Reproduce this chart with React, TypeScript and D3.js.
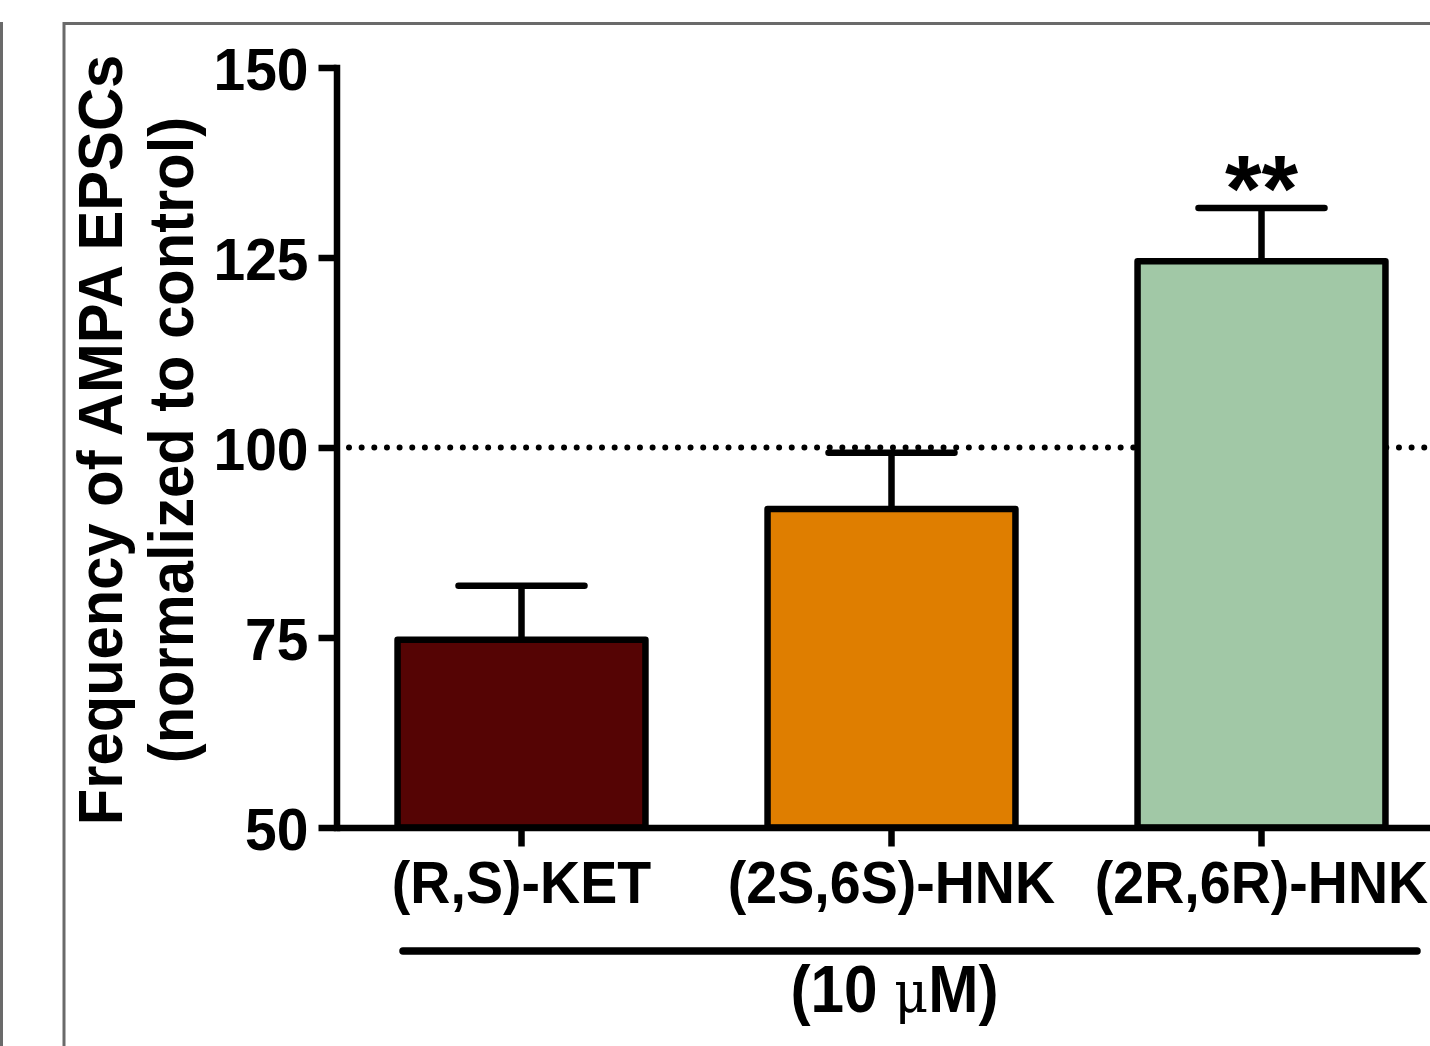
import React, { useRef, useEffect } from "react";
import * as d3 from "d3";

const categories = ["(R,S)-KET", "(2S,6S)-HNK", "(2R,6R)-HNK"];
const means = [74.7, 91.9, 124.5];
const sems = [7.1, 7.4, 7.0];
const barColors = ["#550404", "#df7e00", "#a1c8a6"];
const significance = ["", "", "**"];
const yTicks = [50, 75, 100, 125, 150];
const titleLines = ["Frequency of AMPA EPSCs", "(normalized to control)"];

const FONT = '"Liberation Sans", Arial, Helvetica, sans-serif';
const SX = 0.95; // glyphs in the figure are slightly condensed

const App = () => {
  const chartRef = useRef<SVGSVGElement>(null);

  useEffect(() => {
    drawChart();
  }, []);

  const drawChart = () => {
    if (!chartRef.current) return;
    const svg = d3.select(chartRef.current);
    svg.selectAll("*").remove();

    const W = 1430;
    const H = 1046;

    const y = d3.scaleLinear().domain([50, 150]).range([827.5, 67.5]);
    const x = d3
      .scaleBand()
      .domain(categories)
      .range([336.5, 1446.5])
      .paddingInner(0.33)
      .paddingOuter(0.165);
    const cx = (name: string) => x(name)! + x.bandwidth() / 2;

    // panel frame
    svg
      .append("rect")
      .attr("x", 64)
      .attr("y", 23.5)
      .attr("width", W)
      .attr("height", H)
      .attr("fill", "none")
      .attr("stroke", "#6a6a6a")
      .attr("stroke-width", 3);
    svg
      .append("line")
      .attr("x1", 1.5)
      .attr("x2", 1.5)
      .attr("y1", 22)
      .attr("y2", H)
      .attr("stroke", "#6a6a6a")
      .attr("stroke-width", 3);

    const data = categories.map((c, i) => ({
      name: c,
      mean: means[i],
      sem: sems[i],
      color: barColors[i],
      sig: significance[i],
    }));

    // reference line at 100
    svg
      .append("line")
      .attr("x1", 349)
      .attr("x2", W + 10)
      .attr("y1", y(100))
      .attr("y2", y(100))
      .attr("stroke", "#000")
      .attr("stroke-width", 6)
      .attr("stroke-linecap", "round")
      .attr("stroke-dasharray", "0 12.65");

    // error bars
    const eb = svg.selectAll(".eb").data(data).enter().append("g").attr("class", "eb");
    eb.append("line")
      .attr("x1", (d) => cx(d.name))
      .attr("x2", (d) => cx(d.name))
      .attr("y1", (d) => y(d.mean))
      .attr("y2", (d) => y(d.mean + d.sem))
      .attr("stroke", "#000")
      .attr("stroke-width", 6.5);
    eb.append("line")
      .attr("x1", (d) => cx(d.name) - 63)
      .attr("x2", (d) => cx(d.name) + 63)
      .attr("y1", (d) => y(d.mean + d.sem))
      .attr("y2", (d) => y(d.mean + d.sem))
      .attr("stroke", "#000")
      .attr("stroke-width", 6.5)
      .attr("stroke-linecap", "round");

    // bars
    svg
      .selectAll(".bar")
      .data(data)
      .enter()
      .append("rect")
      .attr("class", "bar")
      .attr("x", (d) => x(d.name)!)
      .attr("y", (d) => y(d.mean))
      .attr("width", x.bandwidth())
      .attr("height", (d) => y(50) - y(d.mean))
      .attr("fill", (d) => d.color)
      .attr("stroke", "#000")
      .attr("stroke-width", 6.5)
      .attr("stroke-linejoin", "round");

    // significance
    svg
      .selectAll(".sig")
      .data(data)
      .enter()
      .append("text")
      .attr("class", "sig")
      .attr("x", (d) => cx(d.name))
      .attr("y", (d) => y(d.mean + d.sem) + 13)
      .attr("text-anchor", "middle")
      .style("font-family", FONT)
      .style("font-weight", "bold")
      .style("font-size", "94px")
      .text((d) => d.sig);

    // y axis
    const yAxis = svg
      .append("g")
      .attr("transform", "translate(336.5,0)")
      .call(d3.axisLeft(y).tickValues(yTicks).tickSize(18).tickSizeOuter(0));
    yAxis.select(".domain").attr("stroke-width", 6.5).attr("stroke-linecap", "square");
    yAxis.selectAll(".tick line").attr("stroke-width", 6.5);
    yAxis
      .selectAll(".tick text")
      .attr("x", -28 / SX)
      .attr("dy", "0.36em")
      .attr("transform", `scale(${SX},1)`)
      .attr("fill", "#000")
      .style("font-family", FONT)
      .style("font-weight", "bold")
      .style("font-size", "60px");

    // x axis
    const xAxis = svg
      .append("g")
      .attr("transform", `translate(0,${y(50)})`)
      .call(d3.axisBottom(x).tickSize(19).tickSizeOuter(0).tickPadding(15));
    xAxis.select(".domain").attr("stroke-width", 6.5);
    xAxis.selectAll(".tick line").attr("stroke-width", 6.5);
    xAxis
      .selectAll(".tick text")
      .attr("transform", `scale(${SX},1)`)
      .attr("fill", "#000")
      .style("font-family", FONT)
      .style("font-weight", "bold")
      .style("font-size", "58.5px");

    // y title
    titleLines.forEach((t, i) => {
      svg
        .append("text")
        .attr("transform", `translate(${122 + i * 71},440) rotate(-90) scale(0.955,1)`)
        .attr("text-anchor", "middle")
        .style("font-family", FONT)
        .style("font-weight", "bold")
        .style("font-size", "62.5px")
        .text(t);
    });

    // grouping bracket + concentration
    svg
      .append("line")
      .attr("x1", 403)
      .attr("x2", 1417)
      .attr("y1", 951)
      .attr("y2", 951)
      .attr("stroke", "#000")
      .attr("stroke-width", 7.5)
      .attr("stroke-linecap", "round");

    const conc = svg
      .append("text")
      .attr("transform", `translate(${cx(categories[1]) + 3},1012) scale(0.9,1)`)
      .attr("text-anchor", "middle")
      .style("font-family", FONT)
      .style("font-weight", "bold")
      .style("font-size", "67px");
    conc.append("tspan").text("(10 ");
    conc
      .append("tspan")
      .style("font-family", '"DejaVu Serif", "Liberation Serif", serif')
      .style("font-weight", "normal")
      .style("font-size", "58px")
      .text("μ");
    conc.append("tspan").text("M)");
  };

  return (
    <div style={{ position: "absolute", left: 0, top: 0, width: 1430, height: 1046, background: "#fff" }}>
      <svg ref={chartRef} width={1430} height={1046} style={{ display: "block" }} />
    </div>
  );
};

export default App;
